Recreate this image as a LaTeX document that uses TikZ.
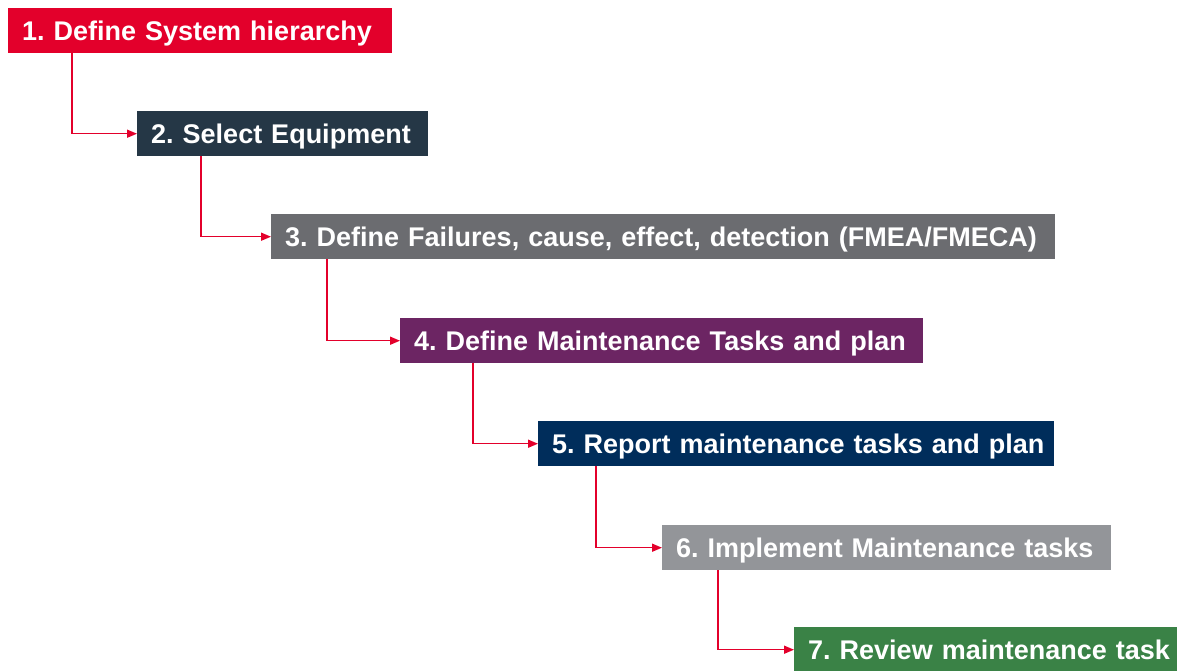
\documentclass[tikz,border=0pt]{standalone}
\usepackage{fontspec}
\setmainfont{Liberation Sans}
\usepackage{pgf,tikz}
\usetikzlibrary{shapes, calc, arrows, arrows.meta, positioning}

\frenchspacing

\definecolor{stepred}{RGB}{227,0,43}
\definecolor{stepslate}{RGB}{37,55,70}
\definecolor{stepgray}{RGB}{107,108,112}
\definecolor{steppurple}{RGB}{108,37,99}
\definecolor{stepnavy}{RGB}{0,45,91}
\definecolor{steplight}{RGB}{147,149,153}
\definecolor{stepgreen}{RGB}{58,130,70}

\tikzset{
  stepbox/.style={fill=#1, text=white, anchor=north west, align=left,
    inner xsep=0pt, inner ysep=0pt, text height=32pt, text depth=13pt,
    execute at begin node={\hspace*{14pt}},
    font=\fontsize{27}{32}\selectfont\bfseries},
  link/.style={->, draw=stepred, line width=1.5pt}
}

\begin{document}
\begin{tikzpicture}[x=1pt, y=-1pt, >={Triangle[length=10pt,width=8pt]}]

\useasboundingbox (0,0) rectangle (1177,670);
\clip (0,0) rectangle (1177,670);

\node[stepbox=stepred, text width=384pt]    (s1) at (8,8)     {1. Define System hierarchy};
\node[stepbox=stepslate, text width=291pt]  (s2) at (137,111) {2. Select Equipment};
\node[stepbox=stepgray, text width=784pt]   (s3) at (271,214) {3. Define Failures, cause, effect, detection (FMEA/FMECA)};
\node[stepbox=steppurple, text width=523pt] (s4) at (400,318) {4. Define Maintenance Tasks and plan};
\node[stepbox=stepnavy, text width=516pt]   (s5) at (538,421) {5. Report maintenance tasks and plan};
\node[stepbox=steplight, text width=449pt]  (s6) at (662,525) {6. Implement Maintenance tasks};
\node[stepbox=stepgreen, text width=383pt]  (s7) at (794,627) {7. Review maintenance task};

% elbow links, down then right
\draw[link] ([xshift=64pt]s1.south west) |- (s2.west);
\draw[link] ([xshift=64pt]s2.south west) |- (s3.west);
\draw[link] ([xshift=56pt]s3.south west) |- (s4.west);
\draw[link] ([xshift=73pt]s4.south west) |- (s5.west);
\draw[link] ([xshift=58pt]s5.south west) |- (s6.west);
\draw[link] ([xshift=56pt]s6.south west) |- (s7.west);

\end{tikzpicture}
\end{document}
